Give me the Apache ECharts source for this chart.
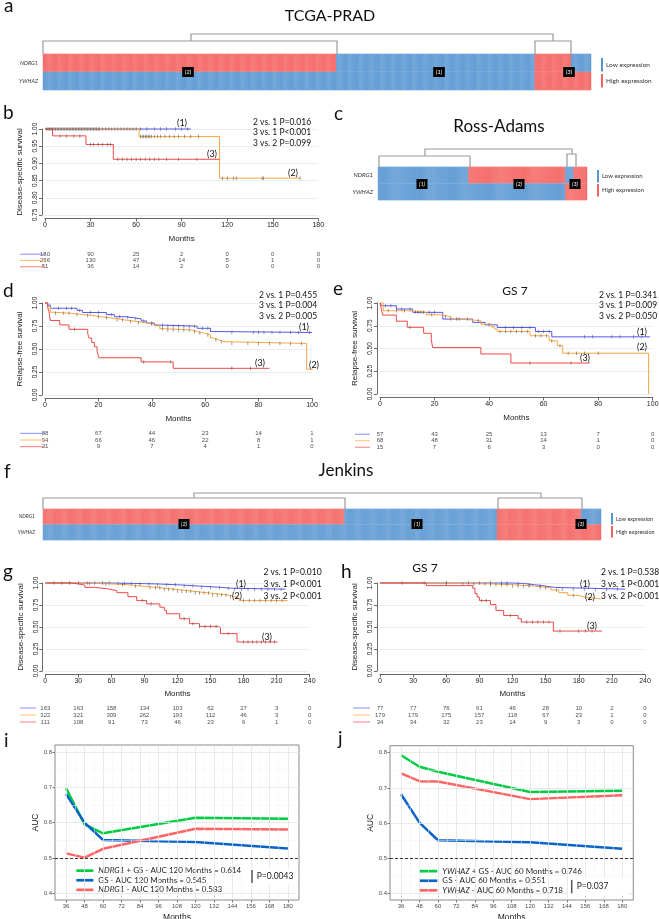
<!DOCTYPE html>
<html><head><meta charset="utf-8">
<script src="https://cdn.jsdelivr.net/npm/echarts@6/dist/echarts.min.js"></script>
<style>html,body{margin:0;padding:0;background:#fff}#c{width:659px;height:919px}</style>
</head><body><div id="c"></div>
<script>
// ================= DATA =================
const genes = ['NDRG1', 'YWHAZ'];
// heatmaps: consecutive sample blocks and expression status per block (1 = high, 0 = low)
const tcgaBlockSizes = [266, 180, 33, 18];
const tcgaNDRG1 = [1, 0, 1, 0];
const tcgaYWHAZ = [0, 0, 1, 1];
const rossBlockSizes = [88, 94, 8, 13];
const rossNDRG1 = [0, 1, 0, 1];
const rossYWHAZ = [0, 0, 1, 1];
const jenkinsBlockSizes = [322, 163, 90, 21];
const jenkinsNDRG1 = [1, 0, 1, 0];
const jenkinsYWHAZ = [0, 0, 1, 1];

// Kaplan-Meier curves [month, survival after step]
const kmB1 = [[0,1],[96,1]];
const kmB2 = [[0,1],[62,0.978],[115,0.857],[168,0.857]];
const kmB3 = [[0,1],[5,0.98],[27,0.955],[45,0.912],[115,0.912]];
const censB1 = [1,2,3,4,5,6,7,8,9,10,11,12,13,14,15,16,17,18,19,20,21,22,23,24,25,26,27,28,29,30,31,32,33,34,35,36,38,40,42,44,46,48,50,52,54,56,58,60,63,67,72,76,80,86,90,94];
const censB2 = [63,64,65,66,67,68,69,70,72,74,76,79,82,85,88,92,96,101,117,120,124,126,143,144,168];
const censB3 = [10,14,19,23,30,32,35,38,41,43,48,51,54,57,60,63,66,69,72,75,80,88,100];

const kmD1 = [[0,1],[1,0.977],[2,0.943],[12,0.92],[14,0.897],[23,0.874],[26,0.851],[30,0.84],[33,0.828],[36,0.805],[38,0.782],[41,0.759],[45,0.748],[57,0.725],[62,0.69],[63,0.68],[100,0.68]];
const kmD2 = [[0,1],[1,0.96],[2,0.9],[3,0.888],[10,0.875],[14,0.864],[18,0.85],[21,0.84],[24,0.83],[27,0.815],[30,0.8],[34,0.785],[38,0.77],[41,0.76],[43,0.72],[45,0.707],[55,0.69],[57,0.67],[60,0.652],[62,0.62],[63,0.6],[65,0.58],[67,0.56],[98,0.28],[103,0.28]];
const kmD3 = [[0,1],[1,0.952],[1.5,0.905],[2,0.81],[5.5,0.762],[9,0.714],[16,0.667],[16.5,0.619],[17.5,0.571],[18.5,0.524],[19.5,0.476],[20.2,0.405],[36,0.36],[48,0.29],[84,0.29]];
const censD1 = [5,8,10,13,17,20,25,28,31,34,37,40,44,46,48,50,52,54,56,59,61,70,78,80,82,85,88,92,95,99];
const censD2 = [4,7,9,12,16,20,23,27,29,32,35,40,44,46,48,50,52,54,56,58,61,64,66,70,76,80,84,88,92,96,102];
const censD3 = [11,37,47,70,77];

const kmE1 = [[0,1],[0.6,0.97],[6,0.934],[12,0.897],[23,0.823],[34,0.787],[38.5,0.76],[43,0.731],[57,0.687],[63,0.628],[99,0.628]];
const kmE2 = [[0,1],[1.2,0.915],[10,0.9],[17,0.87],[22,0.85],[26,0.823],[30,0.805],[37,0.768],[41,0.735],[42,0.713],[43,0.687],[55,0.64],[62,0.585],[65,0.53],[67,0.448],[98.5,0]];
const kmE3 = [[0,1],[0.5,0.933],[1,0.867],[6,0.8],[10,0.733],[16,0.667],[18.8,0.6],[19.3,0.51],[37,0.44],[48,0.34],[77,0.34]];
const censE1 = [2,4,8,11,14,16,18,20,26,29,32,40,46,49,52,55,58,60,62,75,78,85,88,93,96];
const censE2 = [3,6,9,13,15,19,24,28,36,44,46,48,50,52,54,57,59,61,63,66,69,72,75,80];
const censE3 = [11,55,70];

const kmG1 = [[0,1],[60,0.995],[80,0.99],[100,0.98],[120,0.965],[140,0.95],[160,0.94],[170,0.93],[218,0.93]];
const kmG2 = [[0,1],[30,0.995],[45,0.99],[60,0.98],[75,0.962],[90,0.945],[105,0.925],[120,0.905],[135,0.885],[150,0.865],[165,0.845],[172,0.825],[176,0.8],[220,0.8]];
const kmG3 = [[0,1],[23,0.99],[30,0.975],[36,0.95],[45,0.935],[56,0.913],[65,0.89],[75,0.845],[83,0.8],[92,0.763],[104,0.725],[108,0.69],[110,0.65],[122,0.594],[131,0.538],[140,0.507],[157,0.49],[159,0.425],[174,0.33],[211,0.33]];
const censG1 = [8,15,22,30,38,45,52,58,66,72,78,86,94,102,110,118,126,134,142,150,158,166,172,178,184,190,196,202,208,214];
const censG2 = [40,55,70,82,95,100,104,108,112,116,120,124,128,132,136,140,144,148,152,156,160,164,168,180,185,190,195,200,205,210,215];
const censG3 = [88,96,126,134,140,145,150,155,166,180,184,188,192,196,200,204,208];

const kmH1 = [[0,1],[120,0.995],[130,0.98],[140,0.965],[150,0.95],[158,0.93],[222,0.93]];
const kmH2 = [[0,1],[50,0.995],[70,0.99],[100,0.98],[120,0.965],[140,0.945],[155,0.92],[162,0.89],[170,0.86],[180,0.84],[185,0.82],[200,0.82]];
const kmH3 = [[0,1],[42,0.97],[84,0.94],[86,0.88],[88,0.84],[90,0.8],[100,0.755],[105,0.688],[112,0.631],[125,0.594],[128,0.556],[157,0.454],[201,0.454]];
const censH1 = [20,40,60,80,90,100,110,115,125,135,145,165,175,185,195,205,215];
const censH2 = [60,75,85,95,100,105,110,115,120,125,130,135,145,150,160,175,190];
const censH3 = [92,96,118,133,138,143,148,153,163,180,186,192];

// x tick labels / risk-table times
const ticksB = [0,30,60,90,120,150,180];
const ticksDE = [0,20,40,60,80,100];
const ticksGH = [0,30,60,90,120,150,180,210,240];

// numbers at risk
const riskB1 = [180,90,25,2,0,0,0];
const riskB2 = [266,130,47,14,5,1,0];
const riskB3 = [51,36,14,2,0,0,0];
const riskD1 = [88,67,44,23,14,1];
const riskD2 = [94,66,46,22,8,1];
const riskD3 = [21,9,7,4,1,0];
const riskE1 = [57,43,25,13,7,0];
const riskE2 = [68,48,31,14,1,0];
const riskE3 = [15,7,6,3,0,0];
const riskG1 = [163,163,158,134,103,62,27,3,0];
const riskG2 = [322,321,309,262,193,112,46,3,0];
const riskG3 = [111,108,91,73,46,23,6,1,0];
const riskH1 = [77,77,76,61,46,28,10,2,0];
const riskH2 = [179,179,175,157,118,67,23,1,0];
const riskH3 = [34,34,32,23,14,9,3,0,0];

// time-dependent AUC
const aucMonths = [36, 48, 60, 120, 180];
const aucTicks = [36,48,60,72,84,96,108,120,132,144,156,168,180];
const aucYTicks = [0.4,0.5,0.6,0.7,0.8];
const aucI_combo = [0.697, 0.595, 0.570, 0.614, 0.611];
const aucI_gs    = [0.681, 0.600, 0.551, 0.545, 0.527];
const aucI_gene  = [0.513, 0.501, 0.526, 0.583, 0.581];
const aucJ_combo = [0.793, 0.760, 0.746, 0.688, 0.692];
const aucJ_gs    = [0.682, 0.601, 0.551, 0.545, 0.527];
const aucJ_gene  = [0.741, 0.719, 0.718, 0.668, 0.679];
const aucI_names = ['NDRG1 + GS - AUC 120 Months = 0.614', 'GS - AUC 120 Months = 0.545', 'NDRG1 - AUC 120 Months = 0.583'];
const aucJ_names = ['YWHAZ + GS - AUC 60 Months = 0.746', 'GS - AUC 60 Months = 0.551', 'YWHAZ - AUC 60 Months = 0.718'];

// ================= BUILD =================
const FC = 'Lato, "Open Sans", sans-serif';
const FA = '"Liberation Sans", Arial, sans-serif';
const C_BLUE = '#5656f2', C_ORANGE = '#f7a640', C_RED = '#f04848';
const RISK_COL = ['#8c8cff', '#ffc070', '#ff7c7c'];
const HM_BLUE = '#5796d2', HM_RED = '#f5625f';
const A_GREEN = '#00cc44', A_BLUE = '#0a64c8', A_RED = '#ff6464';

const grids = [], xAxes = [], yAxes = [], series = [], graphics = [], legends = [];
const heatIdx = [];

function addGrid(g) { grids.push(Object.assign({outerBoundsMode: 'none', containLabel: false}, g)); return grids.length - 1; }
function txt(x, y, s, o) {
  o = o || {};
  const al = o.align || 'left';
  graphics.push({type: 'text', x: x, y: y, silent: true, z: 50, style: Object.assign({
    text: s, fill: o.fill || '#111', fontSize: o.size || 9, fontFamily: o.family || FC,
    fontStyle: o.italic ? 'italic' : 'normal', align: al, textAlign: al,
    verticalAlign: 'middle', textVerticalAlign: 'middle'
  }, o.extra || {})});
}
function line(pts, color, w) {
  graphics.push({type: 'polyline', silent: true, z: 50, shape: {points: pts}, style: {stroke: color || '#999', lineWidth: w || 1.2, fill: null}});
}
function rect(x, y, w, h, color) {
  graphics.push({type: 'rect', silent: true, z: 40, shape: {x: x, y: y, width: w, height: h}, style: {fill: color}});
}
function survAt(curve, t) { let s = curve[0][1]; for (const p of curve) { if (p[0] <= t) s = p[1]; } return s; }

function heatmap(box, sizes, rowVals, labFont, labMargin) {
  const gi = addGrid({left: box.l, top: box.t, width: box.w, height: box.h});
  const n = sizes.reduce((a, b) => a + b, 0);
  xAxes.push({gridIndex: gi, type: 'category', data: Array.from({length: n}, (_, i) => i), show: false});
  yAxes.push({gridIndex: gi, type: 'category', data: genes, inverse: true,
    axisLine: {show: false}, axisTick: {show: false}, splitLine: {show: false},
    axisLabel: {fontStyle: 'italic', fontSize: labFont, color: '#333', margin: labMargin, fontFamily: FC}});
  const data = []; let idx = 0;
  sizes.forEach((s, b) => { for (let k = 0; k < s; k++) { rowVals.forEach((rv, r) => data.push([idx, r, rv[b]])); idx++; } });
  heatIdx.push(series.length);
  series.push({type: 'heatmap', xAxisIndex: gi, yAxisIndex: gi, data: data, silent: true, progressive: 0,
    itemStyle: {borderWidth: 0.35, borderColor: 'rgba(255,255,255,0.35)'}, emphasis: {disabled: true}});
}

function kmPanel(o) {
  const gi = addGrid({left: o.l, top: o.t, width: o.w, height: o.h});
  const axLine = {show: true, onZero: false, lineStyle: {color: '#444', width: 0.8}};
  xAxes.push({gridIndex: gi, type: 'value', min: 0, max: o.xmax, interval: o.xint, offset: 3.5,
    name: 'Months', nameLocation: 'middle', nameGap: o.nameGapX || 16,
    nameTextStyle: {fontSize: 8, color: '#222', fontFamily: FA},
    axisLine: axLine, axisTick: {show: true, length: 3, lineStyle: {color: '#444', width: 0.8}},
    axisLabel: {fontSize: 7, color: '#222', margin: 3, fontFamily: FA}, splitLine: {show: false}});
  yAxes.push({gridIndex: gi, type: 'value', min: o.ymin, max: 1, interval: o.yint, offset: 3,
    name: o.yname, nameLocation: 'middle', nameRotate: 90, nameGap: o.nameGapY || 18,
    nameTextStyle: {fontSize: 8, color: '#222', fontFamily: FA},
    axisLine: axLine, axisTick: {show: true, length: 3, lineStyle: {color: '#444', width: 0.8}},
    axisLabel: {rotate: 90, fontSize: 6.5, color: '#222', margin: 3, fontFamily: FA, formatter: v => v.toFixed(2)},
    splitLine: {show: true, lineStyle: {color: '#e0ecee', width: 0.8}}});
  o.curves.forEach(c => {
    series.push({type: 'line', step: 'end', xAxisIndex: gi, yAxisIndex: gi, data: c.data, symbol: 'none', showSymbol: false,
      lineStyle: {color: c.color, width: 1}, itemStyle: {color: c.color}, clip: false, silent: true, z: 3});
    series.push({type: 'scatter', xAxisIndex: gi, yAxisIndex: gi, data: c.cens.map(t => [t, survAt(c.data, t)]),
      symbol: 'rect', symbolSize: [0.7, 3.5], itemStyle: {color: '#555'}, silent: true, z: 4});
  });
  // risk table
  const rt = o.risk;
  const rg = addGrid({left: o.l, top: rt.t, width: o.w, height: rt.h});
  xAxes.push({gridIndex: rg, type: 'value', min: 0, max: o.xmax, show: false});
  yAxes.push({gridIndex: rg, type: 'category', data: ['1', '2', '3'], inverse: true, show: false});
  const data = [];
  rt.rows.forEach((r, ri) => r.forEach((v, k) => data.push([o.ticks[k], ri, v])));
  series.push({type: 'scatter', xAxisIndex: rg, yAxisIndex: rg, data: data, symbolSize: 1,
    itemStyle: {color: 'rgba(0,0,0,0)'}, silent: true,
    label: {show: true, position: 'inside', formatter: p => String(p.value[2]), fontSize: 6, color: '#222', fontFamily: FA}});
  rt.rows.forEach((r, ri) => {
    const y = rt.t + (ri + 0.5) * rt.h / 3;
    line([[rt.kx1, y], [rt.kx2, y]], RISK_COL[ri], 1);
  });
}

function aucPanel(o) {
  const gi = addGrid({left: o.l, top: o.t, width: o.w, height: o.h, show: true, borderColor: '#8a8a8a', borderWidth: 1, backgroundColor: '#fff'});
  xAxes.push({gridIndex: gi, type: 'value', min: 28.8, max: 187.2,
    name: 'Months', nameLocation: 'middle', nameGap: 13, nameTextStyle: {fontSize: 8.5, color: '#222', fontFamily: FA},
    axisLine: {show: false}, splitLine: {show: false},
    axisTick: {show: true, length: 2.5, customValues: aucTicks, lineStyle: {color: '#555', width: 0.8}},
    axisLabel: {customValues: aucTicks, fontSize: 6, color: '#4d4d4d', margin: 3, fontFamily: FA}});
  yAxes.push({gridIndex: gi, type: 'value', min: 0.381, max: 0.82,
    name: 'AUC', nameLocation: 'middle', nameRotate: 90, nameGap: 14, nameTextStyle: {fontSize: 8.5, color: '#222', fontFamily: FA},
    axisLine: {show: false}, splitLine: {show: false},
    axisTick: {show: true, length: 2.5, customValues: aucYTicks, lineStyle: {color: '#555', width: 0.8}},
    axisLabel: {customValues: aucYTicks, fontSize: 6, color: '#4d4d4d', margin: 3, fontFamily: FA, formatter: v => v.toFixed(1)}});
  const ml = [];
  aucTicks.slice(0, -1).forEach(v => ml.push({xAxis: v + 6, lineStyle: {color: '#f2f2f2', width: 0.5, type: 'solid'}}));
  [0.45, 0.55, 0.65, 0.75].forEach(v => ml.push({yAxis: v, lineStyle: {color: '#f2f2f2', width: 0.5, type: 'solid'}}));
  aucTicks.forEach(v => ml.push({xAxis: v, lineStyle: {color: '#e3e3e3', width: 0.8, type: 'solid'}}));
  aucYTicks.forEach(v => ml.push({yAxis: v, lineStyle: {color: '#e3e3e3', width: 0.8, type: 'solid'}}));
  ml.push({yAxis: 0.5, lineStyle: {color: '#222', width: 0.9, type: [3, 2]}});
  series.push({type: 'line', xAxisIndex: gi, yAxisIndex: gi, data: [], silent: true, z: 1,
    markLine: {silent: true, symbol: ['none', 'none'], label: {show: false}, animation: false, data: ml}});
  o.curves.forEach(c => {
    series.push({type: 'line', name: c.name, xAxisIndex: gi, yAxisIndex: gi, data: aucMonths.map((m, i) => [m, c.vals[i]]),
      symbol: 'none', showSymbol: false, lineStyle: {color: c.color, width: 2.5}, itemStyle: {color: c.color}, silent: true, z: 3});
  });
  const gene = o.gene;
  legends.push({data: o.curves.map(c => c.name), orient: 'vertical', left: o.legL, top: o.legT,
    itemWidth: o.legW, itemHeight: 9, itemGap: 0.3, selectedMode: false, backgroundColor: '#fff', padding: [2, 3, 2, 2],
    lineStyle: {width: 2.7}, itemStyle: {opacity: 0},
    formatter: n => n.replace(gene, '{i|' + gene + '}'),
    textStyle: {fontSize: 8, lineHeight: 9.3, color: '#222', fontFamily: FC,
      rich: {i: {fontStyle: 'italic', fontSize: 8, lineHeight: 9.3, color: '#222', fontFamily: FC}}}});
}

// ---- heatmaps ----
heatmap({l: 43, t: 54, w: 548, h: 36}, tcgaBlockSizes, [tcgaNDRG1, tcgaYWHAZ], 5.5, 5);
heatmap({l: 378, t: 167, w: 209, h: 33}, rossBlockSizes, [rossNDRG1, rossYWHAZ], 6, 5);
heatmap({l: 43, t: 509, w: 558, h: 31}, jenkinsBlockSizes, [jenkinsNDRG1, jenkinsYWHAZ], 5, 8);

// ---- KM panels ----
kmPanel({l: 45, t: 129, w: 273.3, h: 86, xmax: 180, xint: 30, ymin: 0.75, yint: 0.05, ticks: ticksB,
  yname: 'Disease-specific survival',
  curves: [{data: kmB1, cens: censB1, color: C_BLUE}, {data: kmB2, cens: censB2, color: C_ORANGE}, {data: kmB3, cens: censB3, color: C_RED}],
  risk: {t: 251, h: 19, rows: [riskB1, riskB2, riskB3], kx1: 20, kx2: 45}});
kmPanel({l: 45, t: 303, w: 267, h: 92, xmax: 100, xint: 20, ymin: 0, yint: 0.25, ticks: ticksDE,
  yname: 'Relapse-free survival',
  curves: [{data: kmD1, cens: censD1, color: C_BLUE}, {data: kmD2, cens: censD2, color: C_ORANGE}, {data: kmD3, cens: censD3, color: C_RED}],
  risk: {t: 430, h: 20, rows: [riskD1, riskD2, riskD3], kx1: 20, kx2: 45}});
kmPanel({l: 380, t: 303, w: 272.7, h: 91, xmax: 100, xint: 20, ymin: 0, yint: 0.25, ticks: ticksDE,
  yname: 'Relapse-free survival',
  curves: [{data: kmE1, cens: censE1, color: C_BLUE}, {data: kmE2, cens: censE2, color: C_ORANGE}, {data: kmE3, cens: censE3, color: C_RED}],
  risk: {t: 431, h: 19.5, rows: [riskE1, riskE2, riskE3], kx1: 355, kx2: 370}});
kmPanel({l: 45.3, t: 583, w: 264.4, h: 88, xmax: 240, xint: 30, ymin: 0, yint: 0.25, ticks: ticksGH, nameGapX: 15,
  yname: 'Disease-specific survival',
  curves: [{data: kmG1, cens: censG1, color: C_BLUE}, {data: kmG2, cens: censG2, color: C_ORANGE}, {data: kmG3, cens: censG3, color: C_RED}],
  risk: {t: 704.5, h: 21, rows: [riskG1, riskG2, riskG3], kx1: 20, kx2: 36}});
kmPanel({l: 380, t: 583, w: 265, h: 88, xmax: 240, xint: 30, ymin: 0, yint: 0.25, ticks: ticksGH, nameGapX: 15,
  yname: 'Disease-specific survival',
  curves: [{data: kmH1, cens: censH1, color: C_BLUE}, {data: kmH2, cens: censH2, color: C_ORANGE}, {data: kmH3, cens: censH3, color: C_RED}],
  risk: {t: 704.5, h: 21, rows: [riskH1, riskH2, riskH3], kx1: 353, kx2: 370}});

// ---- AUC panels ----
aucPanel({l: 55, t: 745, w: 244, h: 155, gene: 'NDRG1', legL: 73, legT: 864, legW: 17,
  curves: [{name: aucI_names[0], vals: aucI_combo, color: A_GREEN}, {name: aucI_names[1], vals: aucI_gs, color: A_BLUE}, {name: aucI_names[2], vals: aucI_gene, color: A_RED}]});
aucPanel({l: 390, t: 745.7, w: 243.3, h: 154.3, gene: 'YWHAZ', legL: 416, legT: 864.5, legW: 18,
  curves: [{name: aucJ_names[0], vals: aucJ_combo, color: A_GREEN}, {name: aucJ_names[1], vals: aucJ_gs, color: A_BLUE}, {name: aucJ_names[2], vals: aucJ_gene, color: A_RED}]});

// ---- annotations ----
// panel letters
[['a', 4, 6], ['b', 3, 113], ['c', 334, 113.5], ['d', 3, 290.5], ['e', 333, 289], ['f', 4, 471.5],
 ['g', 3, 571.5], ['h', 341, 571.5], ['i', 4, 740.5], ['j', 338, 739]].forEach(p => txt(p[1], p[2], p[0], {size: 19}));
// titles
txt(330, 16, 'TCGA-PRAD', {size: 16, align: 'center'});
txt(499, 127, 'Ross-Adams', {size: 17, align: 'center'});
txt(346, 471, 'Jenkins', {size: 17, align: 'center'});
txt(515, 291, 'GS 7', {size: 12, align: 'center'});
txt(425, 568, 'GS 7', {size: 12, align: 'center'});
// p-values
function pvals(x, y0, dy, arr) { arr.forEach((s, i) => txt(x, y0 + i * dy, s, {size: 8.5})); }
pvals(253, 122, 10.5, ['2 vs. 1 P=0.016', '3 vs. 1 P<0.001', '3 vs. 2 P=0.099']);
pvals(259, 295, 10.5, ['2 vs. 1 P=0.455', '3 vs. 1 P=0.004', '3 vs. 2 P=0.005']);
pvals(599, 295, 10.5, ['2 vs. 1 P=0.341', '3 vs. 1 P=0.009', '3 vs. 2 P=0.050']);
pvals(263.5, 572, 12, ['2 vs. 1 P=0.010', '3 vs. 1 P<0.001', '3 vs. 2 P<0.001']);
pvals(601, 572, 12, ['2 vs. 1 P=0.538', '3 vs. 1 P<0.001', '3 vs. 2 P<0.001']);
// curve labels
[['(1)', 182, 123], ['(3)', 212, 154], ['(2)', 293, 173],
 ['(1)', 304, 327], ['(3)', 260, 363], ['(2)', 314, 365],
 ['(1)', 642, 332], ['(2)', 642, 347], ['(3)', 585, 358],
 ['(1)', 241, 584], ['(2)', 237, 596], ['(3)', 267, 637],
 ['(1)', 585, 584], ['(2)', 590, 597], ['(3)', 592, 626]].forEach(p => txt(p[1], p[2], p[0], {size: 9, align: 'center'}));
// cluster boxes on heatmaps
function box(x, y, s, size) { txt(x, y, s, {size: size, align: 'center', fill: '#fff', italic: true, extra: {backgroundColor: '#000', padding: [2, 2.5]}}); }
box(188, 72, '(2)', 6); box(439, 72, '(1)', 6); box(569, 72, '(3)', 6);
box(422, 184, '(1)', 5.5); box(519, 184, '(2)', 5.5); box(575, 184, '(3)', 5.5);
box(184, 524, '(2)', 5.5); box(417, 524, '(1)', 5.5); box(581, 524, '(3)', 5.5);
// dendrograms
const DG = '#9a9a9a';
line([[191, 41], [191, 34], [553, 34], [553, 41]], DG); line([[43, 54], [43, 41], [337, 41], [337, 54]], DG); line([[535, 54], [535, 41], [571, 41], [571, 54]], DG);
line([[425, 156], [425, 149], [572, 149], [572, 154]], DG); line([[379, 167], [379, 156], [470, 156], [470, 167]], DG); line([[567, 167], [567, 154], [576, 154], [576, 167]], DG);
line([[194, 498], [194, 493], [541, 493], [541, 498]], DG); line([[43, 509], [43, 498], [345, 498], [345, 509]], DG); line([[498, 509], [498, 498], [582, 498], [582, 509]], DG);
// heatmap legends
function hmLegend(x, y1, y2, h, size) {
  rect(x, y1, 2, h, HM_BLUE); rect(x, y2, 2, h, HM_RED);
  txt(x + 5, y1 + h / 2, 'Low expression', {size: size, fill: '#333'});
  txt(x + 5, y2 + h / 2, 'High expression', {size: size, fill: '#333'});
}
hmLegend(601, 58, 74, 13.5, 6.5);
hmLegend(597, 170, 184, 12.5, 6);
hmLegend(611, 513, 526, 11.5, 5.5);
// AUC p-value annotations
rect(248, 868, 50, 17, '#fff'); line([[252, 870], [252, 883]], '#555', 1.5); txt(256.7, 876, 'P=0.0043', {size: 8.5, fill: '#222'});
rect(568, 878, 60, 17, '#fff'); line([[571.7, 880], [571.7, 893.3]], '#555', 1.5); txt(576.7, 886.7, 'P=0.037', {size: 8.5, fill: '#222'});

const chart = echarts.init(document.getElementById('c'), null, {renderer: 'canvas'});
chart.setOption({
  animation: false,
  backgroundColor: '#fff',
  grid: grids, xAxis: xAxes, yAxis: yAxes, series: series, legend: legends,
  visualMap: [{type: 'piecewise', show: false, seriesIndex: heatIdx, dimension: 2,
    pieces: [{value: 0, color: HM_BLUE}, {value: 1, color: HM_RED}]}],
  graphic: graphics
});
</script></body></html>
